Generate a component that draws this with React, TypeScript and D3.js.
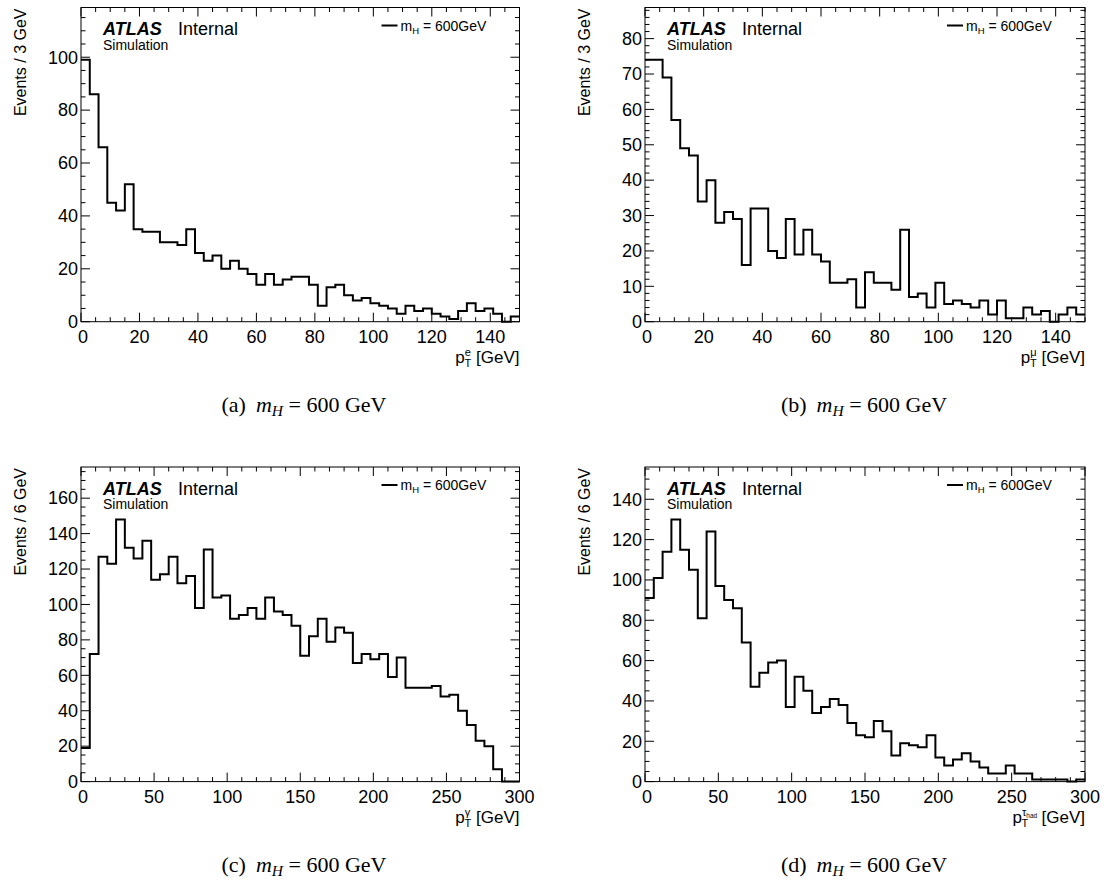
import React from 'react';
import * as d3 from 'd3';

// ---------------- data (events per bin) ----------------
const ptElectron = [99,86,66,45,42,52,35,34,34,30,30,29,35,26,23,25,20,23,20,18,14,18,14,16,17,17,14,6,13,14,10,8,9,7,6,5,3,6,4,5,3,2,1,4,7,4,5,3,0,2];
const ptMuon = [74,74,69,57,49,47,34,40,28,31,29,16,32,32,20,18,29,19,26,19,17,11,11,12,4,14,11,11,9,26,7,8,4,11,5,6,5,4,6,2,6,1,1,4,2,3,0,2,4,2];
const ptPhoton = [19,72,127,123,148,132,126,136,114,117,127,112,116,98,131,104,105,92,94,98,92,104,96,94,88,71,82,92,79,87,84,67,72,69,72,59,70,53,53,53,54,48,49,40,32,23,20,7,0,0];
const ptTauHad = [91,101,114,130,115,105,81,124,97,90,86,69,47,54,59,60,37,52,45,34,37,41,38,29,23,22,30,25,13,19,18,17,23,12,8,11,14,10,7,4,4,8,4,4,1,1,1,1,0,1];

const binWidths = [3, 3, 6, 6];
const xMaxima = [150, 150, 300, 300];
const yTitles = ['Events / 3 GeV', 'Events / 3 GeV', 'Events / 6 GeV', 'Events / 6 GeV'];
const captionLetters = ['(a)', '(b)', '(c)', '(d)'];
const particleSymbols = ['e', 'μ', 'γ', 'τ'];
const legendLabel = ' = 600GeV';

// ---------------- layout ----------------
const layouts = [
  { left: 81, right: 519.5, top: 7.5, bottom: 321.7, capX: 304, capY: 412, xMajor: 20, xMinor: 5, yMajor: 20, yMinor: 5 },
  { left: 645, right: 1085, top: 7.5, bottom: 321.7, capX: 864, capY: 412, xMajor: 20, xMinor: 5, yMajor: 10, yMinor: 2 },
  { left: 81, right: 519.5, top: 467, bottom: 781.6, capX: 304, capY: 871.5, xMajor: 50, xMinor: 10, yMajor: 20, yMinor: 5 },
  { left: 645, right: 1085, top: 467, bottom: 781.6, capX: 864, capY: 871.5, xMajor: 50, xMinor: 10, yMajor: 20, yMinor: 5 },
];

const seriesList = [ptElectron, ptMuon, ptPhoton, ptTauHad];

const SANS = '"Liberation Sans", Arial, Helvetica, sans-serif';
const SERIF = '"Liberation Serif", "Times New Roman", serif';

function XTitle({ right, yPos, idx }: { right: number; yPos: number; idx: number }) {
  const fs = 17;
  if (idx === 3) {
    return (
      <text x={right} y={yPos} textAnchor="end" fontFamily={SANS} fontSize={fs} style={{ whiteSpace: 'pre' }}>
        p
        <tspan fontSize={11} dy={-7}>τ</tspan>
        <tspan fontSize={6.5} dy={2}>had</tspan>
        <tspan fontSize={11} dx={-15.6} dy={9}>T</tspan>
        <tspan dx={8.5} dy={-4}> [GeV]</tspan>
      </text>
    );
  }
  const sym = particleSymbols[idx];
  const symW = sym === 'e' ? 6.2 : sym === 'μ' ? 6.4 : 5.6;
  return (
    <text x={right} y={yPos} textAnchor="end" fontFamily={SANS} fontSize={fs} style={{ whiteSpace: 'pre' }}>
      p
      <tspan fontSize={11} dy={-7}>{sym}</tspan>
      <tspan fontSize={11} dx={-symW} dy={11}>T</tspan>
      <tspan dy={-4}> [GeV]</tspan>
    </text>
  );
}

function Panel({ idx }: { idx: number }) {
  const L = layouts[idx];
  const values = seriesList[idx];
  const bw = binWidths[idx];
  const xMax = xMaxima[idx];
  const yMax = (d3.max(values) as number) * 1.2;

  const x = d3.scaleLinear().domain([0, xMax]).range([L.left, L.right]);
  const y = d3.scaleLinear().domain([0, yMax]).range([L.bottom, L.top]);

  const pts: [number, number][] = values.map((v, i) => [i * bw, v]);
  pts.push([values.length * bw, values[values.length - 1]]);
  const line = d3
    .line<[number, number]>()
    .x((d) => x(d[0]))
    .y((d) => y(d[1]))
    .curve(d3.curveStepAfter);

  const eps = 1e-9;
  const xMajorTicks = d3.range(0, xMax + eps, L.xMajor);
  const xMinorTicks = d3.range(0, xMax + eps, L.xMinor).filter((t) => Math.abs(t / L.xMajor - Math.round(t / L.xMajor)) > 1e-6);
  const yMajorTicks = d3.range(0, yMax + eps, L.yMajor);
  const yMinorTicks = d3.range(0, yMax + eps, L.yMinor).filter((t) => Math.abs(t / L.yMajor - Math.round(t / L.yMajor)) > 1e-6);

  const MAJ = 9;
  const MIN = 4.5;
  const tickStroke = { stroke: '#000', strokeWidth: 1 };

  return (
    <g>
      {/* ticks on all four sides */}
      {xMajorTicks.map((t) => (
        <g key={'xM' + t}>
          <line x1={x(t)} x2={x(t)} y1={L.bottom} y2={L.bottom - MAJ} {...tickStroke} />
          <line x1={x(t)} x2={x(t)} y1={L.top} y2={L.top + MAJ} {...tickStroke} />
        </g>
      ))}
      {xMinorTicks.map((t) => (
        <g key={'xm' + t}>
          <line x1={x(t)} x2={x(t)} y1={L.bottom} y2={L.bottom - MIN} {...tickStroke} />
          <line x1={x(t)} x2={x(t)} y1={L.top} y2={L.top + MIN} {...tickStroke} />
        </g>
      ))}
      {yMajorTicks.map((t) => (
        <g key={'yM' + t}>
          <line x1={L.left} x2={L.left + MAJ} y1={y(t)} y2={y(t)} {...tickStroke} />
          <line x1={L.right} x2={L.right - MAJ} y1={y(t)} y2={y(t)} {...tickStroke} />
        </g>
      ))}
      {yMinorTicks.map((t) => (
        <g key={'ym' + t}>
          <line x1={L.left} x2={L.left + MIN} y1={y(t)} y2={y(t)} {...tickStroke} />
          <line x1={L.right} x2={L.right - MIN} y1={y(t)} y2={y(t)} {...tickStroke} />
        </g>
      ))}

      {/* histogram */}
      <path d={line(pts) || ''} fill="none" stroke="#000" strokeWidth={2} />

      {/* frame */}
      <rect x={L.left} y={L.top} width={L.right - L.left} height={L.bottom - L.top} fill="none" stroke="#000" strokeWidth={1} />

      {/* tick labels */}
      {xMajorTicks.map((t) => (
        <text key={'xl' + t} x={x(t) + (t === 0 ? 2 : 0)} y={L.bottom + 21.5} textAnchor="middle" fontFamily={SANS} fontSize={18}>
          {t}
        </text>
      ))}
      {yMajorTicks.map((t) => (
        <text key={'yl' + t} x={L.left - 3} y={y(t)} dy="0.35em" textAnchor="end" fontFamily={SANS} fontSize={18}>
          {t}
        </text>
      ))}

      {/* axis titles */}
      <text transform={`translate(${L.left - 55.5},${L.top + 1}) rotate(-90)`} textAnchor="end" fontFamily={SANS} fontSize={16}>
        {yTitles[idx]}
      </text>
      <XTitle right={L.right} yPos={L.bottom + 41} idx={idx} />

      {/* ATLAS label */}
      <text x={L.left + 22} y={L.top + 27.5} fontFamily={SANS} fontSize={18} fontWeight="bold" fontStyle="italic">
        ATLAS
      </text>
      <text x={L.left + 97} y={L.top + 27.5} fontFamily={SANS} fontSize={18}>
        Internal
      </text>
      <text x={L.left + 22} y={L.top + 42} fontFamily={SANS} fontSize={14}>
        Simulation
      </text>

      {/* legend */}
      <line x1={L.right - 138} x2={L.right - 122} y1={L.top + 18} y2={L.top + 18} stroke="#000" strokeWidth={2} />
      <text x={L.right - 119} y={L.top + 23} fontFamily={SANS} fontSize={14} style={{ whiteSpace: 'pre' }}>
        m
        <tspan fontSize={9.5} dy={3}>H</tspan>
        <tspan dy={-3}>{legendLabel}</tspan>
      </text>

      {/* caption */}
      <text x={L.capX} y={L.capY} textAnchor="middle" fontFamily={SERIF} fontSize={22} style={{ whiteSpace: 'pre' }}>
        {captionLetters[idx]}
        <tspan dx={10} fontStyle="italic">m</tspan>
        <tspan fontStyle="italic" fontSize={15.5} dy={4}>H</tspan>
        <tspan dy={-4}> = 600 GeV</tspan>
      </text>
    </g>
  );
}

export default function App() {
  return (
    <svg
      width={1110}
      height={894}
      viewBox="0 0 1110 894"
      style={{ position: 'absolute', left: 0, top: 0, background: '#fff' }}
    >
      <rect x={0} y={0} width={1110} height={894} fill="#fff" />
      {[0, 1, 2, 3].map((i) => (
        <Panel key={i} idx={i} />
      ))}
    </svg>
  );
}
